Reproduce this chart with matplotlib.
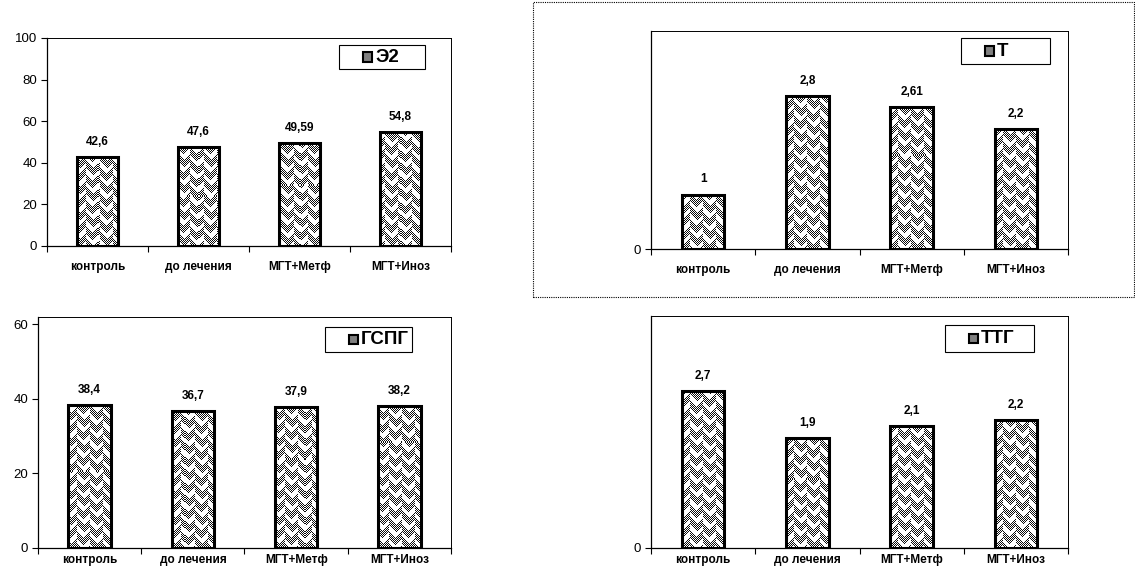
import matplotlib
matplotlib.use("Agg")
import matplotlib.pyplot as plt
import numpy as np
from matplotlib.patches import Rectangle

plt.rcParams["font.family"] = ["Liberation Sans", "DejaVu Sans"]

# Dades de les quatre gràfiques
grups = ["контроль", "до лечения", "МГТ+Метф", "МГТ+Иноз"]
valors_e2 = [42.6, 47.6, 49.59, 54.8]
valors_t = [1, 2.8, 2.61, 2.2]
valors_gspg = [38.4, 36.7, 37.9, 38.2]
valors_ttg = [2.7, 1.9, 2.1, 2.2]
noms = ["Э2", "Т", "ГСПГ", "ТТГ"]

AMPLE, ALT = 1135, 568

# Posició de cada panell en píxels: (esquerra, dalt, dreta, baix)
caixes_eixos = [(47, 38, 451, 246), (651, 31, 1068, 249),
                (38, 317, 451, 548), (651, 316, 1068, 548)]
# Caixa de la llegenda en píxels (esquerra, dalt, dreta, baix)
caixes_llegenda = [(339, 45, 425, 69), (961, 38, 1050, 64),
                   (325, 327, 412, 352), (945, 325, 1034, 352)]
limits_y = [(0, 100), (0, 4), (0, 62), (0, 4)]
ticks_y = [[0, 20, 40, 60, 80, 100], [0], [0, 20, 40, 60], [0]]
# separació de les etiquetes de categoria (la fila de baix queda arran de vora)
pad_x = [11, 11, 4, 4]


def textura(h, w, periode=13, blanc=5):
    # Trama en espiga: V puntejades, amb les columnes alternes desplaçades
    i, j = np.mgrid[0:h, 0:w]
    tri = np.abs((j % periode) - periode / 2)
    desplac = ((j // periode) % 2) * (periode // 2)
    banda = ((i + tri + desplac) % periode) >= blanc
    fosc = banda & ((i + j) % 2 == 0)
    return np.where(fosc, 0.05, 1.0)


def eixos_pixels(fig, caixa):
    x0, y0, x1, y1 = caixa
    return fig.add_axes([x0 / AMPLE, 1 - y1 / ALT, (x1 - x0) / AMPLE, (y1 - y0) / ALT])


def format_valor(v):
    return f"{v:g}".replace(".", ",")


def dibuixa_llegenda(ax, caixa_ax, caixa, text):
    ax0, ay0, ax1, ay1 = caixa_ax
    w, h = ax1 - ax0, ay1 - ay0

    def frac(px, py):
        return (px - ax0) / w, (ay1 - py) / h

    x0, y0, x1, y1 = caixa
    fx0, fy1 = frac(x0, y1)
    fx1, fy0 = frac(x1, y0)
    ax.add_patch(Rectangle((fx0, fy1), fx1 - fx0, fy0 - fy1, transform=ax.transAxes,
                           facecolor="white", edgecolor="black", lw=0.8, zorder=5,
                           clip_on=False))
    ym = (y0 + y1) / 2
    # quadrat petit amb la trama
    mx = x0 + 24
    qx0, qy0 = frac(mx, ym + 4.5)
    qx1, qy1 = frac(mx + 9, ym - 4.5)
    ax.add_patch(Rectangle((qx0, qy0), qx1 - qx0, qy1 - qy0, transform=ax.transAxes,
                           facecolor="0.5", edgecolor="black", lw=1.5, zorder=6,
                           clip_on=False))
    tx, ty = frac(mx + 12, ym)
    ax.text(tx, ty, text, transform=ax.transAxes, ha="left", va="center",
            fontsize=13.5, fontweight="bold", zorder=7)


def dibuixa_panell(fig, k, valors):
    caixa = caixes_eixos[k]
    ax = eixos_pixels(fig, caixa)
    x = np.arange(len(grups))
    ax.set_xlim(-0.5, len(grups) - 0.5)
    ax.set_ylim(*limits_y[k])

    barres = ax.bar(x, valors, width=0.41, facecolor="none", edgecolor="black",
                    linewidth=2.2, zorder=4)

    # Omplim cada barra amb la trama, retallada a la forma de la barra
    wpx = caixa[2] - caixa[0]
    hpx = caixa[3] - caixa[1]
    img = textura(hpx, wpx)
    for b in barres:
        im = ax.imshow(img, cmap="gray", vmin=0, vmax=1, interpolation="nearest",
                       extent=(-0.5, len(grups) - 0.5, *limits_y[k]), aspect="auto",
                       origin="upper", zorder=3)
        im.set_clip_path(b)
    ax.set_xlim(-0.5, len(grups) - 0.5)
    ax.set_ylim(*limits_y[k])

    for xi, v in zip(x, valors):
        ax.annotate(format_valor(v), (xi, v), xytext=(0, 6.5), textcoords="offset points",
                    ha="center", va="bottom", fontsize=8.5, fontweight="bold")

    # Marques entre categories i etiquetes centrades
    ax.set_xticks(np.arange(len(grups) + 1) - 0.5)
    ax.set_xticklabels([])
    ax.set_xticks(x, minor=True)
    ax.set_xticklabels(grups, minor=True, fontsize=8.5, fontweight="bold")
    ax.tick_params(axis="x", which="major", length=4, width=0.8, direction="out")
    ax.tick_params(axis="x", which="minor", length=0, pad=pad_x[k])

    ax.set_yticks(ticks_y[k])
    ax.tick_params(axis="y", length=4, width=0.8, labelsize=9.5, pad=3)

    for nom, sp in ax.spines.items():
        sp.set_linewidth(0.9 if nom in ("left", "bottom") else 0.7)
        sp.set_color("black")

    dibuixa_llegenda(ax, caixa, caixes_llegenda[k], noms[k])
    return ax


def main():
    fig = plt.figure(figsize=(AMPLE / 100, ALT / 100), dpi=100)

    # Marc puntejat de la gràfica de la T
    fig.add_artist(Rectangle((533 / AMPLE, 1 - 297 / ALT), (1134 - 533) / AMPLE,
                             (297 - 2) / ALT, transform=fig.transFigure, fill=False,
                             edgecolor="black", lw=0.8, linestyle=(0, (1, 1))))

    for k, valors in enumerate([valors_e2, valors_t, valors_gspg, valors_ttg]):
        dibuixa_panell(fig, k, valors)

    fig.savefig("out.png", dpi=100)


if __name__ == "__main__":
    main()
